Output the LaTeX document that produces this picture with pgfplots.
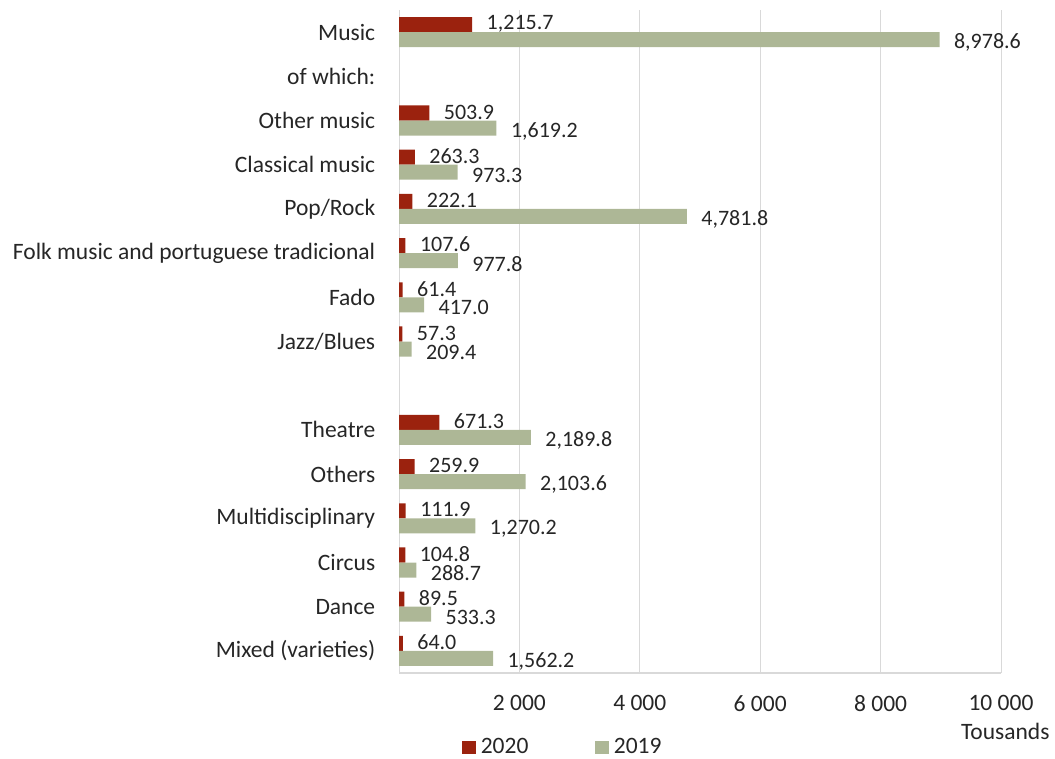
\documentclass[border=0pt]{standalone}
\usepackage{pgfplots}
\pgfplotsset{compat=1.18}
\usepackage{pgfplotstable}
\usepackage{fontspec}
\setmainfont{Carlito}
\definecolor{barred}{RGB}{155,34,14}
\definecolor{bargreen}{RGB}{173,183,150}
\definecolor{txt}{RGB}{38,38,38}
\definecolor{gridc}{RGB}{217,217,217}
\newcommand\cf{\fontsize{23.5}{27}\selectfont}
\newcommand\lf{\fontsize{22}{26}\selectfont}

\pgfplotstableread{
y r g
14 1215.7 8978.6
12 503.9 1619.2
11 263.3 973.3
10 222.1 4781.8
9 107.6 977.8
8 61.4 417.0
7 57.3 209.4
5 671.3 2189.8
4 259.9 2103.6
3 111.9 1270.2
2 104.8 288.7
1 89.5 533.3
0 64.0 1562.2
}\data

\begin{document}
\begin{tikzpicture}
\path[use as bounding box] (0,0) rectangle (1055pt,-758pt);
\begin{axis}[
  at={(399pt,-673pt)}, anchor=south west,
  scale only axis, width=602pt, height=663pt,
  xmin=0, xmax=10000, ymin=-0.5, ymax=14.5,
  xbar, bar width=0.34,
  clip=false,
  scaled x ticks=false,
  /pgf/number format/assume math mode=true,
  xtick={0,2000,4000,6000,8000,10000},
  xticklabels={{},{2 000},{4 000},{6 000},{8 000},{10 000}},
  ytick={0,...,14},
  yticklabels={{Mixed (varieties)},{Dance},{Circus},{Multidisciplinary},{Others},{Theatre},{},{Jazz/Blues},{Fado},{Folk music and portuguese tradicional},{Pop/Rock},{Classical music},{Other music},{of which:},{Music}},
  tick style={draw=none},
  xmajorgrids, grid style={gridc, line width=1pt},
  axis x line*=bottom, axis y line*=left,
  x axis line style={gridc, line width=1.2pt},
  y axis line style={draw=none},
  ticklabel style={font=\cf, text=txt},
  yticklabel style={xshift=-16pt},
  xticklabel style={yshift=-19pt},
  point meta=x,
  nodes near coords={\pgfmathprintnumber[fixed,fixed zerofill,precision=1,1000 sep={,}]{\pgfplotspointmeta}},
  every node near coord/.append style={font=\lf, text=txt, anchor=west, xshift=11pt},
  legend style={at={(axis description cs:0.105,0)}, anchor=west, yshift=-74pt, draw=none, fill=none, inner sep=0pt, font=\cf, text=txt, nodes={inner sep=5pt}, /tikz/every even column/.append style={column sep=62pt}},
  legend columns=2,
]
\addlegendimage{legend image code/.code={\fill[barred] (0pt,-6pt) rectangle (13pt,6pt);}}
\addlegendentry{2020}
\addlegendimage{legend image code/.code={\fill[bargreen] (0pt,-6pt) rectangle (13pt,6pt);}}
\addlegendentry{2019}
\addplot[fill=barred, draw=none, bar shift=0.17, forget plot, every node near coord/.append style={yshift=1pt}] table[x=r, y=y] \data;
\addplot[fill=bargreen, draw=none, bar shift=-0.17, forget plot, every node near coord/.append style={yshift=-3pt}] table[x=g, y=y] \data;
\node[anchor=east, font=\cf, text=txt] at (rel axis cs:1,0) [xshift=52pt, yshift=-58pt] {Tousands};
\end{axis}
\end{tikzpicture}
\end{document}
